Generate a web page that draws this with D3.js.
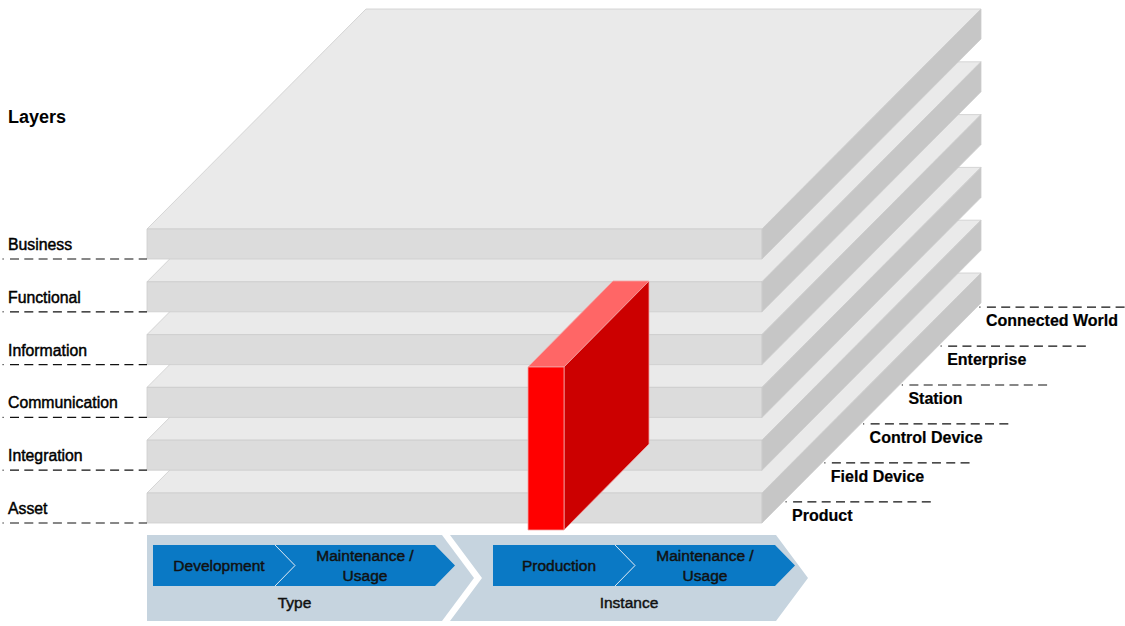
<!DOCTYPE html>
<html>
<head>
<meta charset="utf-8">
<script src="https://cdn.jsdelivr.net/npm/d3@7"></script>
<style>
  body { margin: 0; background: #fff; }
  svg { display: block; font-family: "Liberation Sans", Arial, sans-serif; }
</style>
</head>
<body>
<svg width="1125" height="626"></svg>
<script>
// the three axes of the model
const layers = ['Business', 'Functional', 'Information', 'Communication', 'Integration', 'Asset'];
const levels = ['Product', 'Field Device', 'Control Device', 'Station', 'Enterprise', 'Connected World'];
const lifeCycle = ['Type', 'Instance'];
const typePhases = ['Development', 'Maintenance /|Usage'];
const instancePhases = ['Production', 'Maintenance /|Usage'];
const phases = { Type: typePhases, Instance: instancePhases };

const svg = d3.select('svg');

// slab geometry
const slab = { x0: 147, x1: 762, h: 30, dx: 219, dy: -220 };
const yLayer = d3.scalePoint().domain(layers).range([229, 493]);

const poly = pts => 'M' + pts.map(p => p.join(',')).join('L') + 'Z';

const gSlabs = svg.append('g');
// draw bottom slab first so upper ones cover it
layers.slice().reverse().forEach(name => {
    const y = yLayer(name);
    const { x0, x1, h, dx, dy } = slab;
    const g = gSlabs.append('g').attr('stroke', '#cdcdcd').attr('stroke-width', 0.8);
    g.append('path').attr('d', poly([[x0, y], [x1, y], [x1 + dx, y + dy], [x0 + dx, y + dy]])).attr('fill', '#eaeaea');
    g.append('path').attr('d', poly([[x0, y], [x1, y], [x1, y + h], [x0, y + h]])).attr('fill', '#dcdcdc');
    g.append('path').attr('d', poly([[x1, y], [x1 + dx, y + dy], [x1 + dx, y + dy + h], [x1, y + h]])).attr('fill', '#c6c6c6');
});

// red box (an asset across the layers)
const box = { x: 528, y: 367, w: 36, h: 163, dx: 85, dy: -86 };
const gBox = svg.append('g').attr('stroke', '#f2a5a5').attr('stroke-width', 0.8);
gBox.append('path').attr('d', poly([[box.x, box.y], [box.x + box.w, box.y], [box.x + box.w + box.dx, box.y + box.dy], [box.x + box.dx, box.y + box.dy]])).attr('fill', '#ff6666');
gBox.append('path').attr('d', poly([[box.x + box.w, box.y], [box.x + box.w + box.dx, box.y + box.dy], [box.x + box.w + box.dx, box.y + box.dy + box.h], [box.x + box.w, box.y + box.h]])).attr('fill', '#cc0000');
gBox.append('path').attr('d', poly([[box.x, box.y], [box.x + box.w, box.y], [box.x + box.w, box.y + box.h], [box.x, box.y + box.h]])).attr('fill', '#ff0000');

// left side: layer labels
svg.append('text').attr('x', 8).attr('y', 123).attr('font-size', 18).attr('font-weight', 'bold').attr('fill', '#000').text('Layers');

const gLeft = svg.append('g');
layers.forEach(name => {
    const yb = yLayer(name) + slab.h;
    gLeft.append('rect').attr('x', 2.5).attr('y', yb - 0.6).attr('width', 1.2).attr('height', 1.2).attr('fill', '#333');
    gLeft.append('line').attr('x1', 10).attr('x2', slab.x0).attr('y1', yb).attr('y2', yb)
        .attr('stroke', '#111').attr('stroke-width', 1.2).attr('stroke-dasharray', '9,5.3');
    gLeft.append('text').attr('x', 8).attr('y', yb - 9).attr('font-size', 15.8)
        .attr('fill', '#000').attr('stroke', '#000').attr('stroke-width', 0.45).text(name);
});

// right side: hierarchy levels along the bottom diagonal edge
const yAsset = yLayer('Asset') + slab.h;
const diagA = [slab.x1, yAsset], diagB = [slab.x1 + slab.dx, yAsset + slab.dy];
const tLevel = d3.scalePoint().domain(levels).range([0.11, 0.995]);
const gRight = svg.append('g');
levels.forEach(name => {
    const t = tLevel(name);
    const px = diagA[0] + t * (diagB[0] - diagA[0]);
    const py = diagA[1] + t * (diagB[1] - diagA[1]) + 3;
    gRight.append('rect').attr('x', px - 0.6).attr('y', py - 0.6).attr('width', 1.2).attr('height', 1.2).attr('fill', '#333');
    gRight.append('line').attr('x1', px + 7).attr('x2', px + 146).attr('y1', py).attr('y2', py)
        .attr('stroke', '#111').attr('stroke-width', 1.2).attr('stroke-dasharray', '9,5.3');
    gRight.append('text').attr('x', px + 6).attr('y', py + 19).attr('font-size', 16)
        .attr('font-weight', 'bold').attr('fill', '#000').attr('stroke', '#000').attr('stroke-width', 0.2).text(name);
});

// bottom: life cycle & value stream
const xLife = d3.scaleBand().domain(lifeCycle).range([153, 833]);
const blue = { top: 545, bot: 586, body: 282, tip: 20, split: 122 };
const grey = { top: 535, bot: 621, tip: 32 };
const mid = (grey.top + grey.bot) / 2, bmid = (blue.top + blue.bot) / 2;
const gLife = svg.append('g');
let prevR = null;
lifeCycle.forEach((grp, i) => {
    const x = xLife(grp);
    const R = x + (i === 0 ? 289 : 283);
    const L = i === 0 ? x - 6 : prevR + 8;
    const pts = i === 0
        ? [[L, grey.top], [R, grey.top], [R + grey.tip, mid], [R, grey.bot], [L, grey.bot]]
        : [[L, grey.top], [R, grey.top], [R + grey.tip, mid], [R, grey.bot], [L, grey.bot], [L + grey.tip, mid]];
    gLife.append('path').attr('d', poly(pts)).attr('fill', '#c6d4df');
    prevR = R;

    const s = x + blue.split, e = x + blue.body;
    gLife.append('path').attr('d', poly([[x, blue.top], [s, blue.top], [s + blue.tip, bmid], [s, blue.bot], [x, blue.bot]])).attr('fill', '#0a79c5');
    gLife.append('path').attr('d', poly([[s, blue.top], [e, blue.top], [e + blue.tip, bmid], [e, blue.bot], [s, blue.bot], [s + blue.tip, bmid]])).attr('fill', '#0a79c5');
    gLife.append('path').attr('d', `M${s},${blue.top}L${s + blue.tip},${bmid}L${s},${blue.bot}`)
        .attr('fill', 'none').attr('stroke', '#d8e6f2').attr('stroke-width', 1);

    const centers = [(x + s + 10) / 2, (s + blue.tip + e) / 2];
    phases[grp].forEach((ph, j) => {
        const lines = ph.split('|');
        const t = gLife.append('text').attr('text-anchor', 'middle').attr('font-size', 15.5)
            .attr('fill', '#111').attr('stroke', '#111').attr('stroke-width', 0.45);
        lines.forEach((ln, k) => {
            t.append('tspan').attr('x', centers[j])
                .attr('y', bmid + 5 + (k - (lines.length - 1) / 2) * 20).text(ln);
        });
    });
    gLife.append('text').attr('x', (L + (i === 0 ? 0 : grey.tip) + R) / 2).attr('y', 608)
        .attr('text-anchor', 'middle').attr('font-size', 15.5)
        .attr('fill', '#111').attr('stroke', '#111').attr('stroke-width', 0.45).text(grp);
});
</script>
</body>
</html>
